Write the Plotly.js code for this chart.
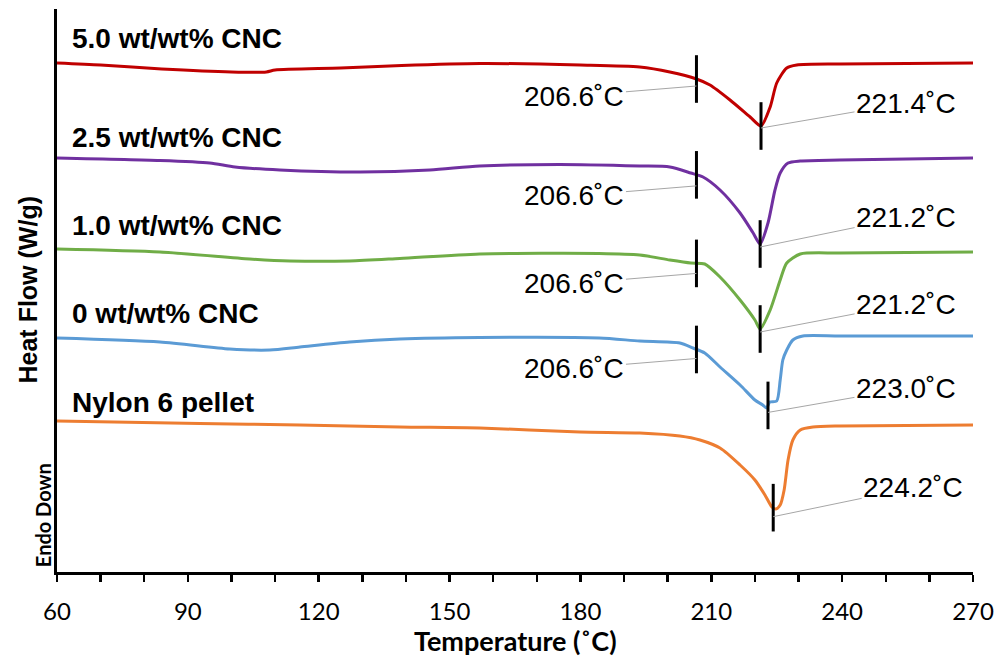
<!DOCTYPE html>
<html>
<head>
<meta charset="utf-8">
<script src="https://cdn.plot.ly/plotly-3.0.1.min.js"></script>
<style>
  html, body { margin: 0; padding: 0; background: #ffffff; }
  #chart { width: 995px; height: 659px; }
</style>
</head>
<body>
<div id="chart"></div>
<script>
// DSC heating scans, curves stacked with an offset (Endo Down)
const sampleNames = ["5.0 wt/wt% CNC", "2.5 wt/wt% CNC", "1.0 wt/wt% CNC", "0 wt/wt% CNC", "Nylon 6 pellet"];
const sampleColors = ["#C00000", "#7030A0", "#70AD47", "#5B9BD5", "#ED7D31"];

const temp50 = [60, 70, 84, 100, 108, 110, 125, 139, 157, 180, 193.6, 200.5, 206.6, 209.7, 214.3, 218.9, 221.4, 223.5, 225.0, 227.3, 229.6, 239.5, 270];
const flow50 = [5.09, 5.07, 5.03, 5.00, 5.00, 5.02, 5.04, 5.065, 5.085, 5.07, 5.05, 5.00, 4.93, 4.87, 4.72, 4.55, 4.46, 4.65, 4.89, 5.04, 5.07, 5.08, 5.09];

const temp25 = [60, 83.6, 95, 100.8, 111.1, 129.5, 145.5, 156.9, 175.2, 193.6, 200.5, 205.3, 208.1, 212, 216.6, 219.6, 221.2, 223.0, 224.6, 225.8, 227.6, 230.4, 239.5, 270];
const flow25 = [4.14, 4.115, 4.09, 4.05, 4.02, 4.00, 4.02, 4.06, 4.075, 4.06, 4.05, 3.99, 3.95, 3.82, 3.59, 3.39, 3.28, 3.49, 3.82, 3.99, 4.09, 4.11, 4.12, 4.14];

const temp10 = [60, 83.6, 104.2, 113.4, 127.1, 138.6, 156.9, 184.3, 193.6, 200.5, 205.3, 208.5, 212, 216.6, 220, 221.2, 223.5, 225.8, 227.3, 230.4, 239.5, 270];
const flow10 = [3.23, 3.20, 3.13, 3.11, 3.11, 3.135, 3.18, 3.185, 3.17, 3.12, 3.09, 3.08, 2.95, 2.72, 2.52, 2.43, 2.62, 2.92, 3.09, 3.18, 3.19, 3.20];

const temp00 = [60, 83.6, 99.6, 108.8, 115.7, 127.1, 138.6, 156.9, 184.3, 193.6, 202.8, 205.8, 208.5, 212, 216.6, 220, 221.8, 222.7, 223.4, 225, 225.8, 226.4, 227.3, 228.7, 231, 239.5, 270];
const flow00 = [2.34, 2.30, 2.23, 2.22, 2.25, 2.30, 2.33, 2.345, 2.34, 2.31, 2.29, 2.24, 2.19, 2.05, 1.87, 1.72, 1.67, 1.64, 1.70, 1.71, 1.92, 2.12, 2.22, 2.32, 2.36, 2.36, 2.36];

const tempPellet = [60, 92.7, 115.7, 138.6, 156.9, 179.9, 193.6, 202.8, 207.4, 212, 216.6, 220, 222.3, 223.9, 224.8, 225.8, 226.7, 227.6, 228.7, 230.4, 233.3, 239.5, 270];
const flowPellet = [1.51, 1.485, 1.47, 1.45, 1.44, 1.40, 1.39, 1.36, 1.32, 1.24, 1.07, 0.92, 0.77, 0.65, 0.63, 0.67, 0.82, 1.12, 1.32, 1.42, 1.45, 1.46, 1.47];

// onset and peak melting temperatures (null = not marked)
const onsetTemps = [206.6, 206.6, 206.6, 206.6, null];
const peakTemps = [221.4, 221.2, 221.2, 223.0, 224.2];

const xTickVals = [60, 90, 120, 150, 180, 210, 240, 270];

const temps = [temp50, temp25, temp10, temp00, tempPellet];
const flows = [flow50, flow25, flow10, flow00, flowPellet];

// label placement (pixels)
const nameShift = [24.5, 21, 24, 25, 19];
const peakOffsets = [[145, -25, -2], [146, -30, -3], [146, -28, -3], [138, -24, -7], [140, -29, -9]];
const onsetOffsets = [[-122, 10, -7], [-122, 10, -11], [-122, 10, -10], [-122, 10, -9], null];

function flowAt(xs, ys, t) {
  for (let i = 1; i < xs.length; i++) {
    if (t <= xs[i]) {
      const f = (t - xs[i - 1]) / (xs[i] - xs[i - 1]);
      return ys[i - 1] + f * (ys[i] - ys[i - 1]);
    }
  }
  return ys[ys.length - 1];
}

const traces = [];
const annotations = [];
const markX = [], markY = [];

sampleNames.forEach((name, i) => {
  traces.push({
    type: "scatter", mode: "lines", name: name,
    x: temps[i], y: flows[i],
    line: { color: sampleColors[i], width: 3, shape: "spline", smoothing: 0.7 },
    hoverinfo: "x+y+name"
  });

  annotations.push({
    xref: "paper", yref: "y", x: 0, y: flows[i][0], xshift: 13, yshift: nameShift[i],
    xanchor: "left", yanchor: "middle", showarrow: false, text: "<b>" + name + "</b>",
    font: { family: "Liberation Sans, Arial, sans-serif", size: 28, color: "#000" }
  });

  const marks = [[onsetTemps[i], onsetOffsets[i]], [peakTemps[i], peakOffsets[i]]];
  marks.forEach(([t, off]) => {
    if (t === null || !off) return;
    const y = flowAt(temps[i], flows[i], t);
    markX.push(t); markY.push(y);
    annotations.push({
      xref: "x", yref: "y", x: t, y: y, ax: off[0], ay: off[1], yshift: off[2],
      showarrow: true, arrowhead: 0, arrowwidth: 1, arrowcolor: "#a6a6a6",
      text: t.toFixed(1) + "˚C",
      font: { family: "Liberation Sans, Arial, sans-serif", size: 28, color: "#000" }
    });
  });
});

traces.push({
  type: "scatter", mode: "markers", x: markX, y: markY, hoverinfo: "x",
  marker: { symbol: "line-ns", size: 34, color: "#000", line: { color: "#000", width: 3 } },
  showlegend: false
});

annotations.push({
  xref: "paper", yref: "paper", x: 0, y: 0.5, xshift: -30, textangle: -90,
  xanchor: "center", yanchor: "middle", showarrow: false, text: "<b>Heat Flow (W/g)</b>",
  font: { family: "Liberation Sans, Arial, sans-serif", size: 25, color: "#000" }
});
annotations.push({
  xref: "paper", yref: "paper", x: 0, y: 0.101, xshift: -14, textangle: -90,
  xanchor: "center", yanchor: "middle", showarrow: false, text: "<b>Endo Down</b>",
  font: { family: "Lato, sans-serif", size: 20, color: "#000" }
});
annotations.push({
  xref: "paper", yref: "paper", x: 0.5, y: 0, yshift: -68,
  xanchor: "center", yanchor: "middle", showarrow: false, text: "<b>Temperature (˚C)</b>",
  font: { family: "Lato, sans-serif", size: 27, color: "#000" }
});

const layout = {
  width: 995, height: 659,
  margin: { l: 57, r: 22, t: 9, b: 87 },
  paper_bgcolor: "#ffffff", plot_bgcolor: "#ffffff",
  showlegend: false,
  xaxis: {
    range: [60, 270], tickvals: xTickVals, ticktext: xTickVals.map(String),
    showline: true, linecolor: "#000", linewidth: 3, mirror: false,
    ticks: "outside", ticklen: 7, tickwidth: 2.5, tickcolor: "#000",
    minor: { dtick: 10, ticks: "outside", ticklen: 7, tickwidth: 2.5, tickcolor: "#000", showgrid: false },
    ticklabelstandoff: 9,
    showgrid: false, zeroline: false,
    tickfont: { family: "Lato, sans-serif", size: 24, color: "#000" }
  },
  yaxis: {
    range: [0, 5.63], showline: true, linecolor: "#000", linewidth: 3,
    ticks: "", showticklabels: false, showgrid: false, zeroline: false
  },
  annotations: annotations
};

Plotly.newPlot("chart", traces, layout, { displayModeBar: false, staticPlot: true });
</script>
</body>
</html>
